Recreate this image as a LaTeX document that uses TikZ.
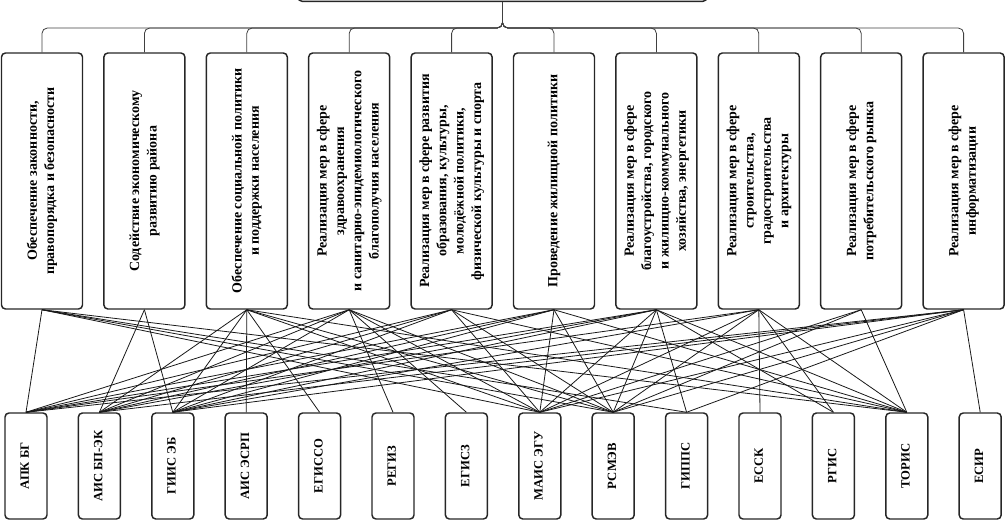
\documentclass[tikz,border=0pt]{standalone}
\usepackage{fontspec}
\setmainfont{Liberation Serif}
\tikzset{
  frame/.style={draw=black!85, line width=1.1pt, rounded corners=3pt, inner sep=0pt},
  topbox/.style={frame, minimum width=60.75pt, minimum height=192pt, font=\bfseries\fontsize{10.5}{13}\selectfont},
  botbox/.style={frame, minimum width=31.5pt, minimum height=79.5pt, font=\bfseries\fontsize{9.5}{11}\selectfont},
  link/.style={line width=0.6pt, black!90},
  tree/.style={line width=0.6pt, black!75, rounded corners=4pt}
}
\newcommand\vtext[1]{\rotatebox{90}{\begin{tabular}{@{}c@{}}#1\end{tabular}}}
\begin{document}
\begin{tikzpicture}[x=0.75pt,y=-0.75pt]
\useasboundingbox (0,0) rectangle (1005,521);
% head box (cut off at the top)
\node[frame, minimum width=306.75pt, minimum height=40pt, anchor=south] (head) at (502.5,2) {};
% top row
\node[topbox] (t1)  at (42,181)    {\vtext{Обеспечение законности,\\правопорядка и безопасности}};
\node[topbox] (t2)  at (144.4,181) {\vtext{Содействие экономическому\\развитию района}};
\node[topbox] (t3)  at (246.8,181) {\vtext{Обеспечение социальной политики\\и поддержки населения}};
\node[topbox] (t4)  at (349.2,181) {\vtext{Реализация мер в сфере\\здравоохранения\\и санитарно-эпидемиологического\\благополучия населения}};
\node[topbox] (t5)  at (451.6,181) {\vtext{Реализация мер в сфере развития\\образования, культуры,\\молодёжной политики,\\физической культуры и спорта}};
\node[topbox] (t6)  at (554,181)   {\vtext{Проведение жилищной политики}};
\node[topbox] (t7)  at (656.4,181) {\vtext{Реализация мер в сфере\\благоустройства, городского\\и жилищно-коммунального\\хозяйства, энергетики}};
\node[topbox] (t8)  at (758.8,181) {\vtext{Реализация мер в сфере\\строительства,\\градостроительства\\и архитектуры}};
\node[topbox] (t9)  at (861.2,181) {\vtext{Реализация мер в сфере\\потребительского рынка}};
\node[topbox] (t10) at (963.6,181) {\vtext{Реализация мер в сфере\\информатизации}};
% bottom row
\node[botbox] (b1)  at (26,466)    {\vtext{АПК БГ}};
\node[botbox] (b2)  at (99.4,466)  {\vtext{АИС БП-ЭК}};
\node[botbox] (b3)  at (172.8,466) {\vtext{ГИИС ЭБ}};
\node[botbox] (b4)  at (246.2,466) {\vtext{АИС ЭСРП}};
\node[botbox] (b5)  at (319.6,466) {\vtext{ЕГИССО}};
\node[botbox] (b6)  at (393,466)   {\vtext{РЕГИЗ}};
\node[botbox] (b7)  at (466.4,466) {\vtext{ЕГИСЗ}};
\node[botbox] (b8)  at (539.8,466) {\vtext{МАИС ЭГУ}};
\node[botbox] (b9)  at (613.2,466) {\vtext{РСМЭВ}};
\node[botbox] (b10) at (686.6,466) {\vtext{ГИППС}};
\node[botbox] (b11) at (760,466)   {\vtext{ЕССК}};
\node[botbox] (b12) at (833.4,466) {\vtext{РГИС}};
\node[botbox] (b13) at (906.8,466) {\vtext{ТОРИС}};
\node[botbox] (b14) at (980.2,466) {\vtext{ЕСИР}};
% tree from the head box
\coordinate (fork) at (502.5,28);
\foreach \i in {1,...,10}
  \draw[tree] (head.south) -- (fork) -| (t\i.north);
% links
\foreach \a/\b in {1/1,1/8,1/9,1/10,1/13,
                   2/2,2/3,
                   3/2,3/3,3/4,3/5,3/8,3/9,3/13,
                   4/1,4/2,4/3,4/6,4/7,4/8,4/9,
                   5/1,5/2,5/3,5/8,5/9,5/13,
                   6/1,6/2,6/3,6/8,6/9,6/13,
                   7/1,7/2,7/3,7/8,7/9,7/10,7/12,7/13,
                   8/1,8/3,8/8,8/9,8/11,8/12,8/13,
                   9/8,9/9,9/13,
                   10/1,10/2,10/3,10/8,10/9,10/10,10/14}
  \draw[link] (t\a.south) -- (b\b.north);
\end{tikzpicture}
\end{document}
